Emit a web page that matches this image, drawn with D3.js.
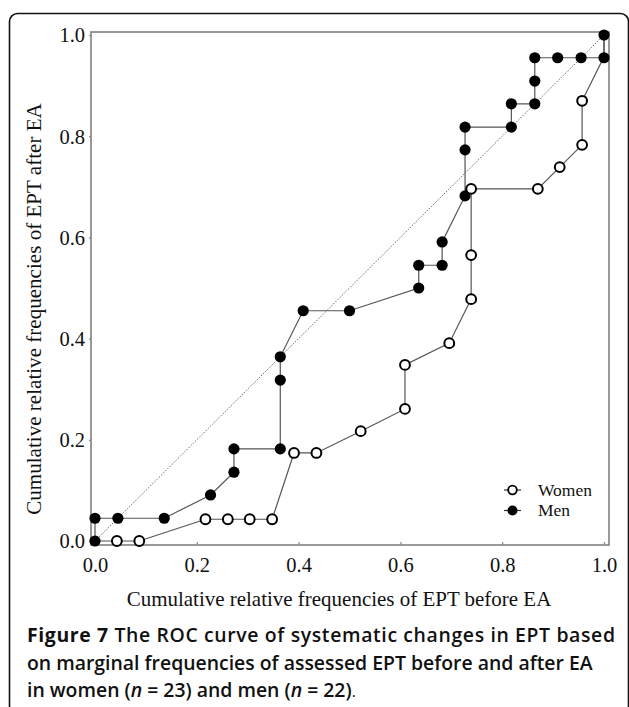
<!DOCTYPE html>
<html>
<head>
<meta charset="utf-8">
<script src="https://cdn.jsdelivr.net/npm/d3@7"></script>
<style>
  html, body { margin: 0; padding: 0; background: #fff; }
  svg { display: block; }
</style>
</head>
<body>
<svg id="chart" width="629" height="707"></svg>
<script>
// ---- data ----
const womenX = [0, 0.043, 0.087, 0.217, 0.261, 0.304, 0.348, 0.391, 0.435, 0.522, 0.609, 0.609, 0.696, 0.739, 0.739, 0.739, 0.870, 0.913, 0.957, 0.957, 1.0, 1.0];
const womenY = [0, 0, 0, 0.043, 0.043, 0.043, 0.043, 0.174, 0.174, 0.217, 0.261, 0.348, 0.391, 0.478, 0.565, 0.696, 0.696, 0.739, 0.783, 0.870, 0.957, 1.0];
const menX = [0, 0, 0.045, 0.136, 0.227, 0.273, 0.273, 0.364, 0.364, 0.364, 0.409, 0.500, 0.636, 0.636, 0.682, 0.682, 0.727, 0.727, 0.727, 0.818, 0.818, 0.864, 0.864, 0.864, 0.909, 0.955, 1.0, 1.0];
const menY = [0, 0.045, 0.045, 0.045, 0.091, 0.136, 0.182, 0.182, 0.318, 0.364, 0.455, 0.455, 0.500, 0.545, 0.545, 0.591, 0.682, 0.773, 0.818, 0.818, 0.864, 0.864, 0.909, 0.955, 0.955, 0.955, 0.955, 1.0];
const tickValues = [0, 0.2, 0.4, 0.6, 0.8, 1.0];
const seriesNames = ["Women", "Men"];
const xTitle = "Cumulative relative frequencies of EPT before EA";
const yTitle = "Cumulative relative frequencies of EPT after EA";

const svg = d3.select("#chart");
const serif = "'Liberation Serif', 'Times New Roman', serif";
const sans = "'Open Sans', 'Noto Sans', sans-serif";

// outer rounded border
svg.append("rect")
  .attr("x", 9.5).attr("y", 13.5).attr("width", 619).attr("height", 700)
  .attr("rx", 8).attr("ry", 8)
  .attr("fill", "none").attr("stroke", "#111").attr("stroke-width", 1.6);

const x = d3.scaleLinear().domain([0, 1]).range([95, 604]);
const y = d3.scaleLinear().domain([0, 1]).range([541, 35]);

// frame
svg.append("rect")
  .attr("x", x(0) - 4).attr("y", y(1) - 3)
  .attr("width", x(1) - x(0) + 9).attr("height", y(0) - y(1) + 7)
  .attr("fill", "none").attr("stroke", "#888").attr("stroke-width", 1.7);

// axes
const fmt = d3.format(".1f");
const xAxis = svg.append("g").attr("transform", `translate(0,${y(0) + 4})`)
  .call(d3.axisBottom(x).tickValues(tickValues).tickFormat(fmt).tickSizeInner(-3).tickSizeOuter(0).tickPadding(12));
const yAxis = svg.append("g").attr("transform", `translate(${x(0) - 4},0)`)
  .call(d3.axisLeft(y).tickValues(tickValues).tickFormat(fmt).tickSizeInner(2).tickSizeOuter(0).tickPadding(4));
[xAxis, yAxis].forEach(g => {
  g.select(".domain").remove();
  g.selectAll(".tick line").attr("stroke", "#888").attr("stroke-width", 1.2);
  g.selectAll(".tick text").attr("fill", "#111").attr("font-family", serif).attr("font-size", 20.5);
});
xAxis.selectAll(".tick text").attr("dy", "0.71em");
yAxis.selectAll(".tick text").attr("dy", "0.34em");

// diagonal reference line
svg.append("line")
  .attr("x1", x(0)).attr("y1", y(0)).attr("x2", x(1)).attr("y2", y(1))
  .attr("stroke", "#444").attr("stroke-width", 0.8).attr("stroke-dasharray", "1.5,1.5");

const women = womenX.map((v, i) => ({x: v, y: womenY[i]}));
const men = menX.map((v, i) => ({x: v, y: menY[i]}));
const line = d3.line().x(d => x(d.x)).y(d => y(d.y));

svg.append("path").datum(men).attr("d", line)
  .attr("fill", "none").attr("stroke", "#555").attr("stroke-width", 1.2);
svg.append("path").datum(women).attr("d", line)
  .attr("fill", "none").attr("stroke", "#555").attr("stroke-width", 1.2);

svg.append("g").selectAll("circle").data(men).join("circle")
  .attr("cx", d => x(d.x)).attr("cy", d => y(d.y)).attr("r", 5.6)
  .attr("fill", "#000");

// women markers that coincide with a men marker are hidden beneath it
const womenVisible = women.filter(w => !men.some(m => Math.abs(m.x - w.x) < 0.006 && Math.abs(m.y - w.y) < 0.006));
svg.append("g").selectAll("circle").data(womenVisible).join("circle")
  .attr("cx", d => x(d.x)).attr("cy", d => y(d.y)).attr("r", 4.9)
  .attr("fill", "#fff").attr("stroke", "#000").attr("stroke-width", 2);

// legend
const leg = svg.append("g").attr("transform", "translate(504,490)");
seriesNames.forEach((name, i) => {
  const g = leg.append("g").attr("transform", `translate(0,${i * 20.5})`);
  g.append("line").attr("x1", 0).attr("x2", 17).attr("y1", 0).attr("y2", 0)
    .attr("stroke", "#333").attr("stroke-width", 1.2);
  g.append("circle").attr("cx", 8.5).attr("cy", 0).attr("r", i === 0 ? 4.3 : 5)
    .attr("fill", i === 0 ? "#fff" : "#000").attr("stroke", "#000").attr("stroke-width", i === 0 ? 1.8 : 0);
  g.append("text").attr("x", 34).attr("y", 5.5).text(name)
    .attr("font-family", serif).attr("font-size", 17.5).attr("fill", "#111");
});

// axis titles (fit to measured widths)
function fitText(sel, width) {
  const w = sel.node().getComputedTextLength();
  const fs = parseFloat(sel.attr("font-size"));
  sel.attr("font-size", fs * width / w);
}
const xt = svg.append("text").attr("x", 339).attr("y", 606).attr("text-anchor", "middle")
  .attr("font-family", serif).attr("font-size", 19).attr("fill", "#111").text(xTitle);
fitText(xt, 425);
const yt = svg.append("text").attr("transform", "translate(41,309) rotate(-90)").attr("text-anchor", "middle")
  .attr("font-family", serif).attr("font-size", 19).attr("fill", "#111").text(yTitle);
fitText(yt, 412);

// caption
const cap = svg.append("g").attr("font-family", sans).attr("fill", "#111");
const l2 = cap.append("text").attr("x", 27).attr("y", 669.5).attr("font-size", 15).attr("font-weight", 600)
  .text("on marginal frequencies of assessed EPT before and after EA");
const capFs = 15 * 566 / l2.node().getComputedTextLength();
l2.attr("font-size", capFs);
const l1 = cap.append("text").attr("x", 27).attr("y", 642).attr("font-size", capFs);
l1.append("tspan").attr("font-weight", 700).text("Figure 7");
l1.append("tspan").attr("font-weight", 600).text(" The ROC curve of systematic changes in EPT based");
l1.attr("textLength", 588).attr("lengthAdjust", "spacing");
const l3 = cap.append("text").attr("x", 27).attr("y", 697).attr("font-size", capFs).attr("font-weight", 600);
l3.append("tspan").text("in women (");
l3.append("tspan").attr("font-style", "italic").text("n");
l3.append("tspan").text(" = 23) and men (");
l3.append("tspan").attr("font-style", "italic").text("n");
l3.append("tspan").text(" = 22)");
l3.append("tspan").attr("font-weight", 400).attr("font-size", capFs * 0.8).text(".");
</script>
</body>
</html>
